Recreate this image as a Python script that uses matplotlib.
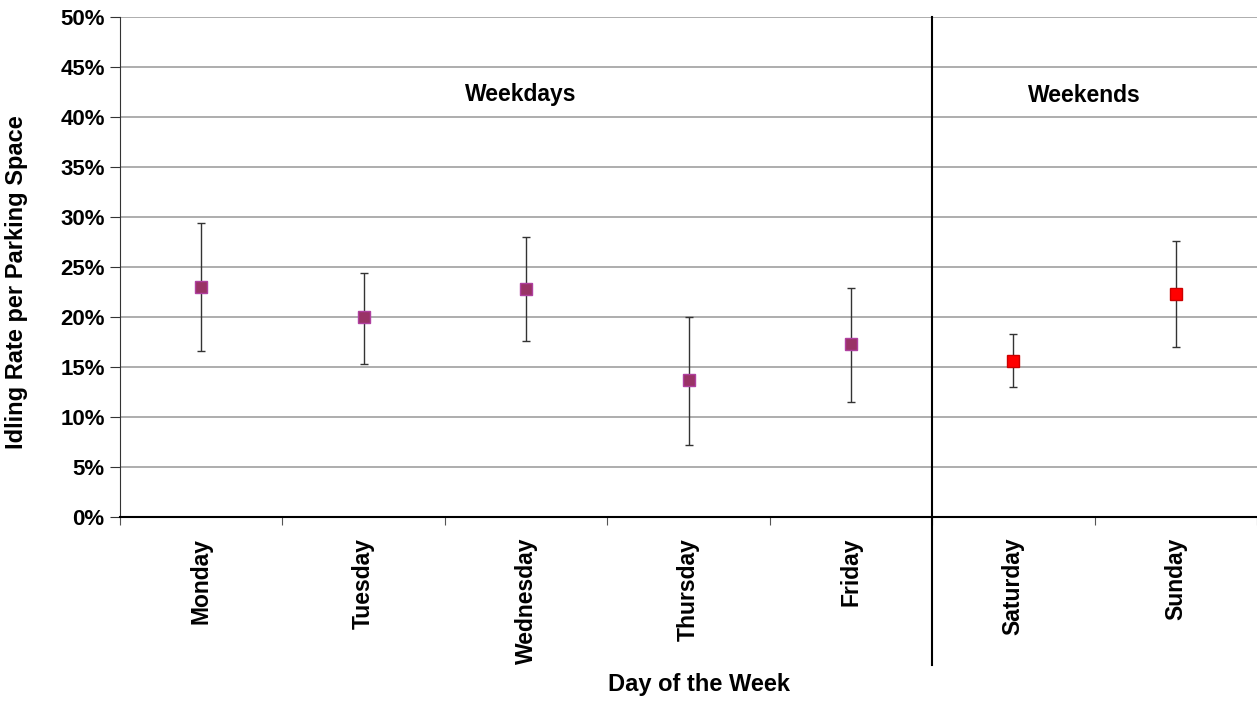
import matplotlib
matplotlib.use("Agg")
import matplotlib.pyplot as plt
import numpy as np

plt.rcParams['font.family'] = ['Liberation Sans', 'DejaVu Sans']

# data (percent)
days = ["Monday", "Tuesday", "Wednesday", "Thursday", "Friday", "Saturday", "Sunday"]
rates = [23.0, 20.0, 22.8, 13.7, 17.3, 15.6, 22.3]
lower = [16.6, 15.3, 17.6, 7.2, 11.5, 13.0, 17.0]
upper = [29.4, 24.4, 28.0, 20.0, 22.9, 18.3, 27.6]
weekend = [False, False, False, False, False, True, True]

fig = plt.figure(figsize=(12.57, 7.01), dpi=100)
ax = fig.add_axes([120 / 1257, 184 / 701, 1137 / 1257, 500 / 701])

x = np.arange(len(days))
for i in range(len(days)):
    face = "#FF0000" if weekend[i] else "#993366"
    edge = "#CC0000" if weekend[i] else "#B040A0"
    ax.errorbar(x[i], rates[i],
                yerr=[[rates[i] - lower[i]], [upper[i] - rates[i]]],
                fmt="s", color="#333333", ecolor="#333333", elinewidth=1.0,
                capsize=3, capthick=1.0, markersize=9,
                markerfacecolor=face, markeredgecolor=edge, markeredgewidth=1.0,
                zorder=3)

ax.set_xlim(-0.5, len(days) - 0.5)
ax.set_ylim(0, 50)
ax.set_yticks(np.arange(0, 51, 5))
ax.set_yticklabels([f"{v}%" for v in range(0, 51, 5)], fontsize=16, fontweight="bold")
ax.yaxis.grid(True, color="#A0A0A0", linewidth=1.2)
ax.set_axisbelow(True)

# ticks at category boundaries, labels at centers
ax.set_xticks(np.arange(-0.5, len(days), 1.0))
ax.set_xticklabels([])
ax.set_xticks(x, minor=True)
ax.set_xticklabels(days, minor=True, rotation=90, fontsize=16.5, fontweight="bold")
ax.tick_params(axis="x", which="minor", length=0, pad=15)
ax.tick_params(axis="x", which="major", length=6, color="#555555", direction="out")
ax.tick_params(axis="y", length=7, color="#333333", direction="out", pad=4)

for side in ["top", "right"]:
    ax.spines[side].set_visible(False)
ax.spines["left"].set_color("#333333")
ax.spines["bottom"].set_color("black")
ax.spines["bottom"].set_linewidth(1.5)

# weekday / weekend separator extending below the axis
ax.plot([4.5, 4.5], [-14.8, 50], color="black", linewidth=1.5, clip_on=False, zorder=4)

ax.text(1.97, 42.2, "Weekdays", ha="center", va="center", fontsize=16.5, fontweight="bold")
ax.text(5.44, 42.2, "Weekends", ha="center", va="center", fontsize=16.5, fontweight="bold")

ax.set_ylabel("Idling Rate per Parking Space", fontsize=17, fontweight="bold", va="center")
ax.yaxis.set_label_coords(-0.0906, 0.47)
ax.set_xlabel("Day of the Week", fontsize=17, fontweight="bold", va="center")
ax.xaxis.set_label_coords(0.509, -0.334)

fig.savefig("out.png", dpi=100)
